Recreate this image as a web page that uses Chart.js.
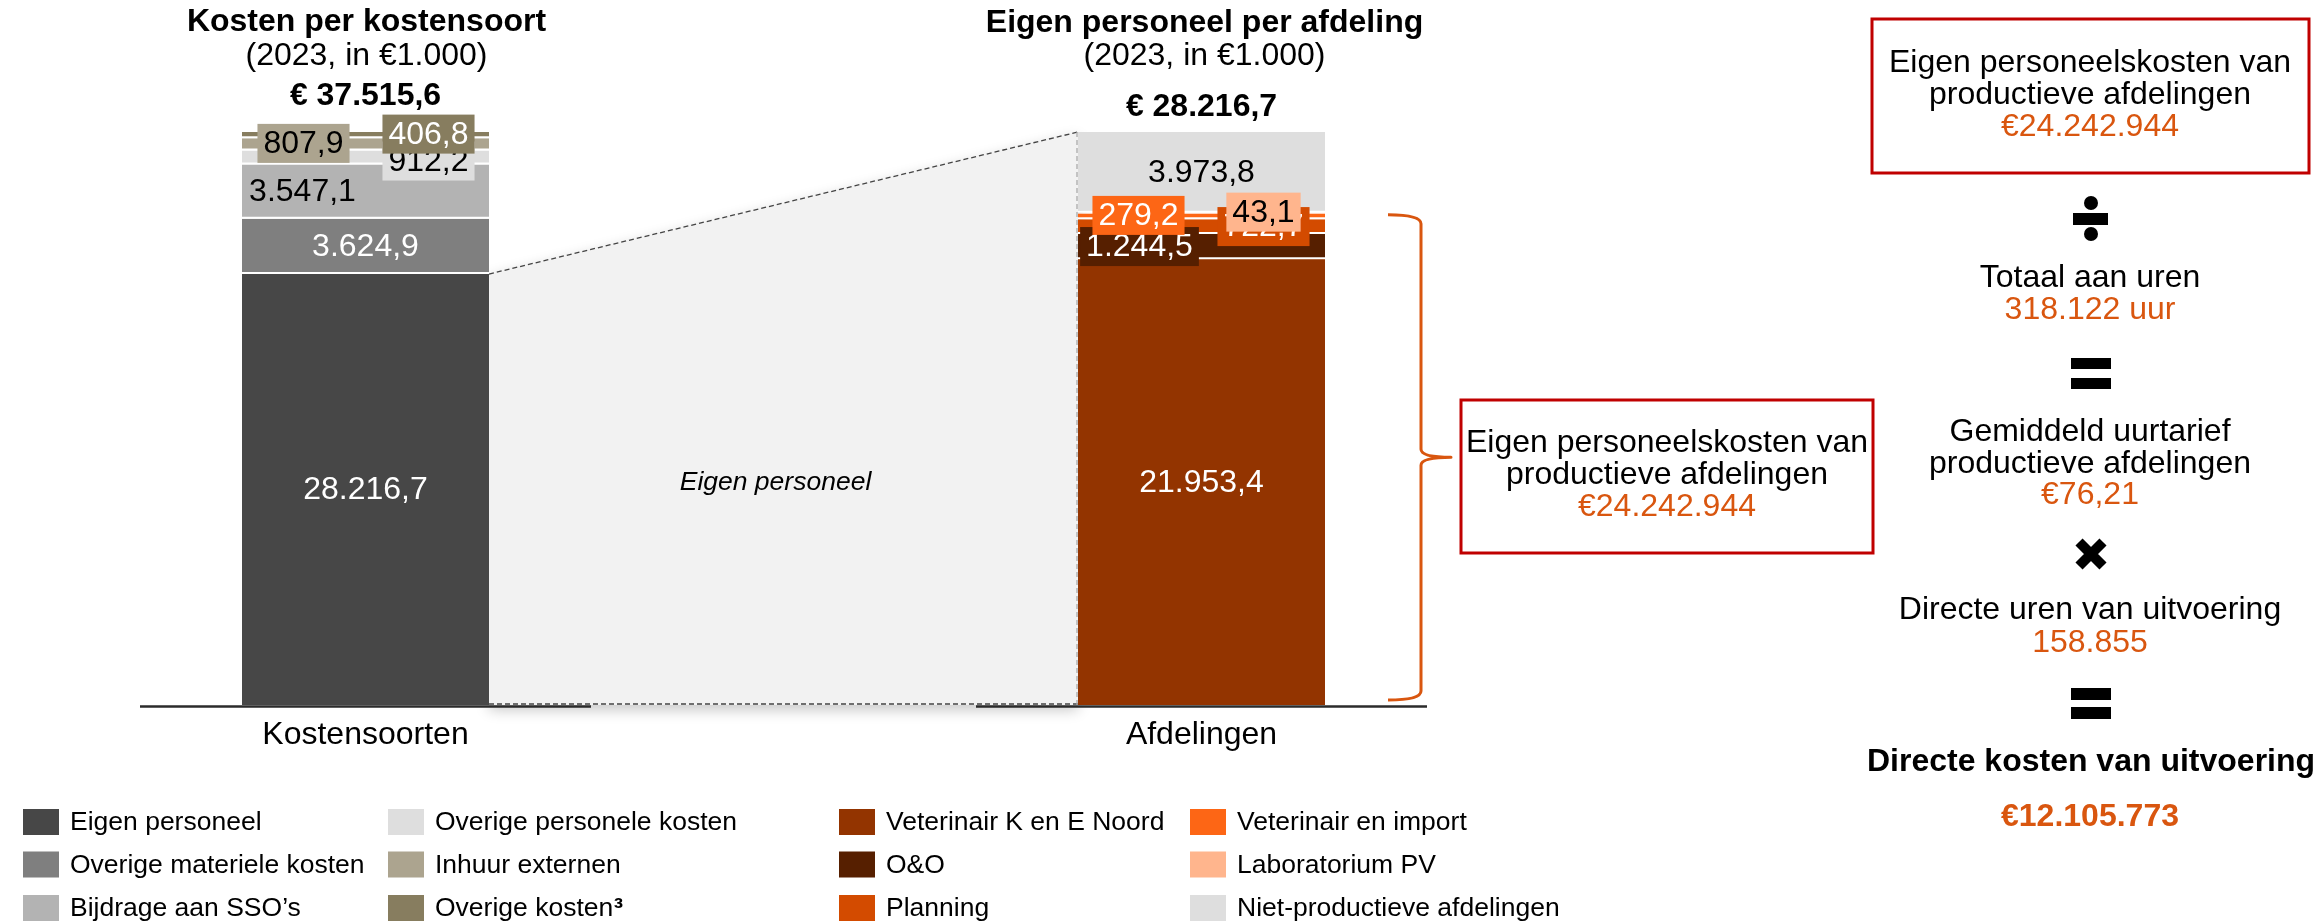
<!DOCTYPE html>
<html>
<head>
<meta charset="utf-8">
<script src="https://cdn.jsdelivr.net/npm/chart.js@4/dist/chart.umd.min.js"></script>
<style>
  html, body { margin: 0; padding: 0; background: #ffffff; }
  #wrap { width: 2318px; height: 923px; position: relative; }
  canvas { display: block; }
</style>
</head>
<body>
<div id="wrap"><canvas id="chart" width="2318" height="923"></canvas></div>
<script>
// ---------------- DATA ----------------
const categories = ['Kostensoorten', '', 'Afdelingen'];

const costTypeNames  = ['Eigen personeel', 'Overige materiele kosten', 'Bijdrage aan SSO\u2019s',
                        'Overige personele kosten', 'Inhuur externen', 'Overige kosten\u00b3'];
const costTypeValues = [28216.7, 3624.9, 3547.1, 912.2, 807.9, 406.8];

const departmentNames  = ['Veterinair K en E Noord', 'O&O', 'Planning',
                          'Veterinair en import', 'Laboratorium PV', 'Niet-productieve afdelingen'];
const departmentValues = [21953.4, 1244.5, 722.7, 279.2, 43.1, 3973.8];

const panelTitles = ['Kosten per kostensoort', 'Eigen personeel per afdeling'];
const panelSubtitle = '(2023, in \u20ac1.000)';
const bridgeLabel = 'Eigen personeel';

const calcLines = [
  ['Eigen personeelskosten van', 'productieve afdelingen'],
  ['Totaal aan uren'],
  ['Gemiddeld uurtarief', 'productieve afdelingen'],
  ['Directe uren van uitvoering'],
  ['Directe kosten van uitvoering']
];
const calcValues = ['\u20ac24.242.944', '318.122 uur', '\u20ac76,21', '158.855', '\u20ac12.105.773'];

// ---------------- STYLES ----------------
const costTypeColors   = ['#474747', '#7f7f7f', '#b3b3b3', '#dedede', '#aca48f', '#877d5f'];
const departmentColors = ['#933400', '#561f00', '#d34b00', '#fd6615', '#ffb58d', '#dedede'];
// label style per segment: text colour, optional box colour, horizontal/vertical offset
const costTypeLabelStyle = [
  {color: '#ffffff'}, {color: '#ffffff'}, {color: '#000000', dx: -63},
  {color: '#000000', box: '#dedede', dx: 63, dy: 3.5},
  {color: '#000000', box: '#aca48f', dx: -62, dy: -1},
  {color: '#ffffff', box: '#877d5f', dx: 63, dy: -1}
];
const departmentLabelStyle = [
  {color: '#ffffff'},
  {color: '#ffffff', box: '#561f00', dx: -62},
  {color: '#ffffff', box: '#d34b00', dx: 62},
  {color: '#ffffff', box: '#fd6615', dx: -63, dy: -1},
  {color: '#000000', box: '#ffb58d', dx: 62, dy: -1},
  {color: '#000000'}
];
const ORANGE = '#d9560f';
const RED = '#c00000';
const FAM = "'Liberation Sans', Arial, Helvetica, sans-serif";
const f = (size, weight, style) => `${style || 'normal'} ${weight || 'normal'} ${size}px ${FAM}`;

function nl1(v) {
  const s = v.toFixed(1);
  const parts = s.split('.');
  return parts[0].replace(/\B(?=(\d{3})+(?!\d))/g, '.') + ',' + parts[1];
}
const sum = a => a.reduce((p, c) => p + c, 0);

// ---------------- DATASETS ----------------
const datasets = [];
costTypeNames.forEach((name, i) => {
  datasets.push({
    label: name, data: [costTypeValues[i], null, null], yAxisID: 'y',
    backgroundColor: costTypeColors[i], borderColor: '#ffffff', borderSkipped: false,
    borderWidth: i === 0 ? 0 : {top: 0, left: 0, right: 0, bottom: 2},
    _labelStyle: costTypeLabelStyle[i]
  });
});
departmentNames.forEach((name, i) => {
  datasets.push({
    label: name, data: [null, null, departmentValues[i]], yAxisID: 'y2',
    backgroundColor: departmentColors[i], borderColor: '#ffffff', borderSkipped: false,
    borderWidth: i === 0 ? 0 : {top: 0, left: 0, right: 0, bottom: 2},
    _labelStyle: departmentLabelStyle[i]
  });
});
const nLeft = costTypeNames.length;
const nAll = datasets.length;

function textLine(ctx, txt, x, y, font, color, align) {
  ctx.font = font; ctx.fillStyle = color; ctx.textAlign = align || 'center'; ctx.textBaseline = 'middle';
  ctx.fillText(txt, x, y);
}
function props(chart, di, idx) {
  return chart.getDatasetMeta(di).data[idx].getProps(['x', 'y', 'base', 'width'], true);
}

const decorPlugin = {
  id: 'decor',
  beforeDatasetsDraw(chart) {
    const ctx = chart.ctx, ca = chart.chartArea;
    const L = props(chart, 0, 0);
    const R = props(chart, nLeft, 2);
    const T = props(chart, nAll - 1, 2);
    const x1 = L.x + L.width / 2, y1 = L.y, x2 = R.x - R.width / 2, y2 = T.y, yb = ca.bottom;
    ctx.save();
    ctx.shadowColor = 'rgba(0,0,0,0.22)'; ctx.shadowBlur = 14; ctx.shadowOffsetY = 5;
    ctx.beginPath(); ctx.moveTo(x1, y1); ctx.lineTo(x2, y2); ctx.lineTo(x2, yb); ctx.lineTo(x1, yb); ctx.closePath();
    ctx.fillStyle = '#f2f2f2'; ctx.fill();
    ctx.restore();
    ctx.save();
    ctx.setLineDash([5, 3]); ctx.lineWidth = 1.3; ctx.strokeStyle = '#444';
    ctx.beginPath(); ctx.moveTo(x1, y1); ctx.lineTo(x2, y2); ctx.stroke();
    ctx.beginPath(); ctx.moveTo(x1, yb - 1); ctx.lineTo(x2, yb - 1); ctx.stroke();
    ctx.strokeStyle = '#aaa';
    ctx.beginPath(); ctx.moveTo(x2 - 1, y2); ctx.lineTo(x2 - 1, yb); ctx.stroke();
    ctx.restore();
    textLine(ctx, bridgeLabel, (x1 + x2) / 2 - 8, 483, f(26.5, 'normal', 'italic'), '#000');
  },
  afterDatasetsDraw(chart) {
    const ctx = chart.ctx, ca = chart.chartArea, xs = chart.scales.x;
    // segment labels
    chart.data.datasets.forEach((ds, di) => {
      const meta = chart.getDatasetMeta(di);
      ds.data.forEach((v, idx) => {
        if (v === null) return;
        const el = meta.data[idx].getProps(['x', 'y', 'base'], true);
        const st = ds._labelStyle || {};
        const cx = el.x + (st.dx || 0), cy = (el.y + el.base) / 2 + (st.dy || 0);
        const txt = nl1(v);
        ctx.font = f(32);
        if (st.box) {
          const w = ctx.measureText(txt).width + 12, h = 39;
          ctx.fillStyle = st.box; ctx.fillRect(cx - w / 2, cy - h / 2, w, h);
        }
        textLine(ctx, txt, cx, cy + 1, f(32), st.color);
      });
    });
    // broken axis lines + category labels
    categories.forEach((c, i) => {
      if (!c) return;
      const x = xs.getPixelForValue(i);
      ctx.save(); ctx.strokeStyle = '#2b2b2b'; ctx.lineWidth = 2.5;
      ctx.beginPath(); ctx.moveTo(x - 225.5, ca.bottom + 1.5); ctx.lineTo(x + 225.5, ca.bottom + 1.5); ctx.stroke();
      ctx.restore();
      textLine(ctx, c, x, 735, f(32), '#000');
    });
    // bracket over productive departments
    const R = props(chart, nLeft, 2);
    const lab = props(chart, nAll - 2, 2);
    const edge = R.x + R.width / 2;
    const x0 = edge + 63, xv = edge + 96, xt = edge + 126;
    const yT = lab.y + 2, yB = ca.bottom - 5, yM = (yT + yB) / 2;
    ctx.save(); ctx.strokeStyle = ORANGE; ctx.lineWidth = 3; ctx.lineJoin = 'round';
    ctx.beginPath();
    ctx.moveTo(x0, yT); ctx.quadraticCurveTo(xv, yT, xv, yT + 9);
    ctx.lineTo(xv, yM - 8); ctx.quadraticCurveTo(xv, yM, xt, yM);
    ctx.quadraticCurveTo(xv, yM, xv, yM + 8);
    ctx.lineTo(xv, yB - 9); ctx.quadraticCurveTo(xv, yB, x0, yB);
    ctx.stroke(); ctx.restore();
  },
  afterDraw(chart) {
    const ctx = chart.ctx, xs = chart.scales.x;
    const xl = xs.getPixelForValue(0), xr = xs.getPixelForValue(2);
    // panel titles
    textLine(ctx, panelTitles[0], xl + 1, 22, f(32, 'bold'), '#000');
    textLine(ctx, panelSubtitle, xl + 1, 56.5, f(32), '#000');
    textLine(ctx, '\u20ac ' + nl1(sum(costTypeValues)), xl, 96.5, f(32, 'bold'), '#000');
    textLine(ctx, panelTitles[1], xr + 3, 23.5, f(32, 'bold'), '#000');
    textLine(ctx, panelSubtitle, xr + 3, 56.5, f(32), '#000');
    textLine(ctx, '\u20ac ' + nl1(sum(departmentValues)), xr, 107.5, f(32, 'bold'), '#000');

    // red boxes
    ctx.save(); ctx.strokeStyle = RED; ctx.lineWidth = 3;
    ctx.strokeRect(1461, 400, 412, 153);
    ctx.strokeRect(1872, 19, 437, 154);
    ctx.restore();
    textLine(ctx, calcLines[0][0], 1667, 443, f(32), '#000');
    textLine(ctx, calcLines[0][1], 1667, 475, f(32), '#000');
    textLine(ctx, calcValues[0], 1667, 507, f(32), ORANGE);

    // right calculation panel
    const cx = 2090;
    textLine(ctx, calcLines[0][0], cx, 63, f(32), '#000');
    textLine(ctx, calcLines[0][1], cx, 95, f(32), '#000');
    textLine(ctx, calcValues[0], cx, 127, f(32), ORANGE);
    // divide sign
    ctx.fillStyle = '#000';
    ctx.beginPath(); ctx.arc(cx + 1, 203, 7, 0, Math.PI * 2); ctx.fill();
    ctx.beginPath(); ctx.arc(cx + 1, 234, 7, 0, Math.PI * 2); ctx.fill();
    ctx.fillRect(cx - 17, 213, 35, 12);
    textLine(ctx, calcLines[1][0], cx, 278, f(32), '#000');
    textLine(ctx, calcValues[1], cx, 310, f(32), ORANGE);
    // equals
    ctx.fillStyle = '#000';
    ctx.fillRect(cx - 19, 358, 40, 11); ctx.fillRect(cx - 19, 378, 40, 11);
    textLine(ctx, calcLines[2][0], cx, 432, f(32), '#000');
    textLine(ctx, calcLines[2][1], cx, 464, f(32), '#000');
    textLine(ctx, calcValues[2], cx, 495, f(32), ORANGE);
    // multiply
    ctx.save(); ctx.strokeStyle = '#000'; ctx.lineWidth = 10;
    ctx.beginPath(); ctx.moveTo(cx - 11, 542); ctx.lineTo(cx + 13, 566); ctx.moveTo(cx + 13, 542); ctx.lineTo(cx - 11, 566); ctx.stroke();
    ctx.restore();
    textLine(ctx, calcLines[3][0], cx, 610, f(32), '#000');
    textLine(ctx, calcValues[3], cx, 643, f(32), ORANGE);
    ctx.fillStyle = '#000';
    ctx.fillRect(cx - 19, 688, 40, 12); ctx.fillRect(cx - 19, 707, 40, 12);
    textLine(ctx, calcLines[4][0], cx + 1, 762, f(32, 'bold'), '#000');
    textLine(ctx, calcValues[4], cx, 817, f(32, 'bold'), ORANGE);

    // legend (column-major, 3 rows)
    const colX = [23, 388, 839, 1190], rowY = [822, 864.5, 908];
    chart.data.datasets.forEach((ds, i) => {
      const c = Math.floor(i / 3), r = i % 3;
      ctx.fillStyle = ds.backgroundColor;
      ctx.fillRect(colX[c], rowY[r] - 13, 36, 26);
      const lbl = ds.label;
      const tx = colX[c] + 47, ty = rowY[r] + 1;
      if (lbl.endsWith('\u00b3')) {
        const base = lbl.slice(0, -1);
        textLine(ctx, base, tx, ty, f(26.5), '#000', 'left');
        ctx.font = f(26.5);
        const w = ctx.measureText(base).width;
        textLine(ctx, '\u00b3', tx + w + 0.5, ty, f(28, 'bold'), '#000', 'left');
      } else {
        textLine(ctx, lbl, tx, ty, f(26.5), '#000', 'left');
      }
    });
  }
};

new Chart(document.getElementById('chart'), {
  type: 'bar',
  data: { labels: categories, datasets: datasets },
  options: {
    responsive: false,
    animation: false,
    events: [],
    layout: { padding: { left: 156.5, right: 907.5, top: 132, bottom: 218 } },
    datasets: { bar: { barPercentage: 1, categoryPercentage: 247 / 418 } },
    plugins: { legend: { display: false }, tooltip: { enabled: false }, title: { display: false } },
    scales: {
      x: { type: 'category', stacked: true, display: false, offset: true },
      y: { stacked: true, display: false, min: 0, max: sum(costTypeValues) },
      y2: { stacked: true, display: false, min: 0, max: sum(departmentValues), position: 'left' }
    }
  },
  plugins: [decorPlugin]
});
</script>
</body>
</html>
